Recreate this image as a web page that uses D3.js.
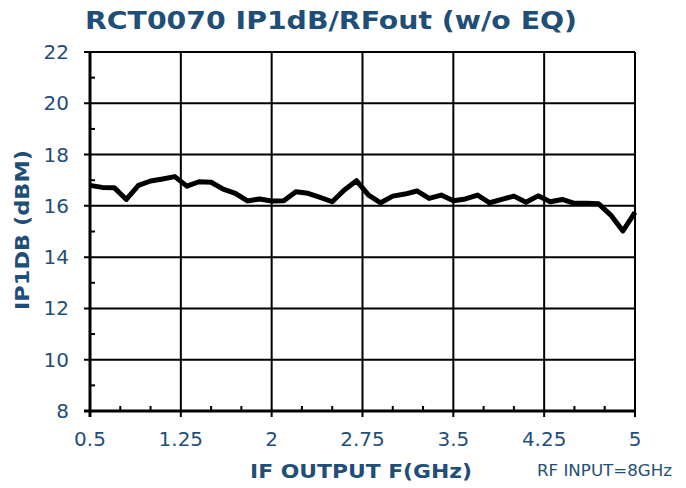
<!DOCTYPE html>
<meta charset="utf-8">
<head>
    <title>RCT0070 IP1dB/RFout</title>
    <script src="https://cdn.jsdelivr.net/npm/d3@7"></script>
    <style>
        body { margin: 0; background: #fff; }
        text { font-family: "DejaVu Sans", Verdana, sans-serif; fill: #1f4e79; }
        .title { font-weight: bold; font-size: 25px; }
        .axisTitle { font-weight: bold; font-size: 20px; }
        .tickLbl { font-size: 20px; }
    </style>
</head>
<body>
<div id="chart"></div>
<script>
    // data
    var freq = [0.5, 0.6, 0.7, 0.8, 0.9, 1.0, 1.1, 1.2, 1.3, 1.4, 1.5, 1.6, 1.7, 1.8, 1.9,
                2.0, 2.1, 2.2, 2.3, 2.4, 2.5, 2.6, 2.7, 2.8, 2.9, 3.0, 3.1, 3.2, 3.3, 3.4,
                3.5, 3.6, 3.7, 3.8, 3.9, 4.0, 4.1, 4.2, 4.3, 4.4, 4.5, 4.6, 4.7, 4.8, 4.9, 5.0];
    var ip1db = [16.8, 16.72, 16.71, 16.25, 16.8, 16.97, 17.05, 17.14, 16.77, 16.94, 16.92, 16.65, 16.49, 16.19, 16.27,
                 16.19, 16.2, 16.55, 16.49, 16.33, 16.16, 16.62, 16.98, 16.42, 16.12, 16.38, 16.46, 16.58, 16.29, 16.42,
                 16.2, 16.27, 16.42, 16.12, 16.25, 16.38, 16.14, 16.39, 16.16, 16.25, 16.1, 16.1, 16.08, 15.64, 15.02, 15.75];
    var xTicks = [0.5, 1.25, 2, 2.75, 3.5, 4.25, 5];
    var yTicks = [8, 10, 12, 14, 16, 18, 20, 22];

    var w = 686, h = 488;
    var pLeft = 90, pRight = 635, pTop = 52, pBottom = 411;

    var svg = d3.select("#chart").append("svg")
        .attr("width", w)
        .attr("height", h);

    var x = d3.scaleLinear().domain([0.5, 5]).range([pLeft, pRight]);
    var y = d3.scaleLinear().domain([8, 22]).range([pBottom, pTop]);

    // horizontal gridlines
    svg.selectAll(".hgrid")
        .data(yTicks)
        .enter().append("line")
        .attr("x1", pLeft - 6).attr("x2", pRight)
        .attr("y1", d => y(d)).attr("y2", d => y(d))
        .attr("stroke", "#000").attr("stroke-width", 2);

    // vertical gridlines
    svg.selectAll(".vgrid")
        .data(xTicks)
        .enter().append("line")
        .attr("x1", d => x(d)).attr("x2", d => x(d))
        .attr("y1", pTop).attr("y2", pBottom + 6)
        .attr("stroke", "#000").attr("stroke-width", 2);

    // minor ticks
    var yMinor = d3.range(9, 22, 2);
    svg.selectAll(".ymin")
        .data(yMinor)
        .enter().append("line")
        .attr("x1", pLeft).attr("x2", pLeft + 5)
        .attr("y1", d => y(d)).attr("y2", d => y(d))
        .attr("stroke", "#000").attr("stroke-width", 2);

    var xMinor = d3.range(0.75, 5, 0.25).filter(d => Math.abs((d - 0.5) / 0.75 - Math.round((d - 0.5) / 0.75)) > 0.01);
    svg.selectAll(".xmin")
        .data(xMinor)
        .enter().append("line")
        .attr("x1", d => x(d)).attr("x2", d => x(d))
        .attr("y1", pBottom).attr("y2", pBottom - 5)
        .attr("stroke", "#000").attr("stroke-width", 2);

    // axes
    svg.append("line")
        .attr("x1", pLeft).attr("x2", pLeft).attr("y1", pTop).attr("y2", pBottom + 6)
        .attr("stroke", "#000").attr("stroke-width", 3);
    svg.append("line")
        .attr("x1", pLeft - 6).attr("x2", pRight).attr("y1", pBottom).attr("y2", pBottom)
        .attr("stroke", "#000").attr("stroke-width", 3);

    // tick labels
    svg.selectAll(".ylbl")
        .data(yTicks)
        .enter().append("text")
        .attr("class", "tickLbl")
        .attr("x", pLeft - 21)
        .attr("y", d => y(d) + 7)
        .attr("text-anchor", "end")
        .text(d => d);

    svg.selectAll(".xlbl")
        .data(xTicks)
        .enter().append("text")
        .attr("class", "tickLbl")
        .attr("x", d => x(d))
        .attr("y", 446)
        .attr("text-anchor", "middle")
        .text(d => d);

    // data line
    var line = d3.line()
        .x((d, i) => x(freq[i]))
        .y(d => y(d));

    svg.append("path")
        .datum(ip1db)
        .attr("d", line)
        .attr("fill", "none")
        .attr("stroke", "#000")
        .attr("stroke-width", 5)
        .attr("stroke-linejoin", "round");

    // titles
    svg.append("text")
        .attr("class", "title")
        .attr("x", 331).attr("y", 29)
        .attr("text-anchor", "middle")
        .attr("textLength", 492).attr("lengthAdjust", "spacingAndGlyphs")
        .text("RCT0070 IP1dB/RFout (w/o EQ)");

    svg.append("text")
        .attr("class", "axisTitle")
        .attr("x", 361).attr("y", 478)
        .attr("text-anchor", "middle")
        .attr("textLength", 222).attr("lengthAdjust", "spacingAndGlyphs")
        .text("IF OUTPUT F(GHz)");

    svg.append("text")
        .attr("class", "axisTitle")
        .attr("transform", "translate(29,230) rotate(-90)")
        .attr("text-anchor", "middle")
        .attr("textLength", 160).attr("lengthAdjust", "spacingAndGlyphs")
        .text("IP1DB (dBM)");

    svg.append("text")
        .attr("x", 537).attr("y", 476)
        .style("font-size", "15px")
        .attr("textLength", 135).attr("lengthAdjust", "spacingAndGlyphs")
        .text("RF INPUT=8GHz");
</script>
</body>
</html>
